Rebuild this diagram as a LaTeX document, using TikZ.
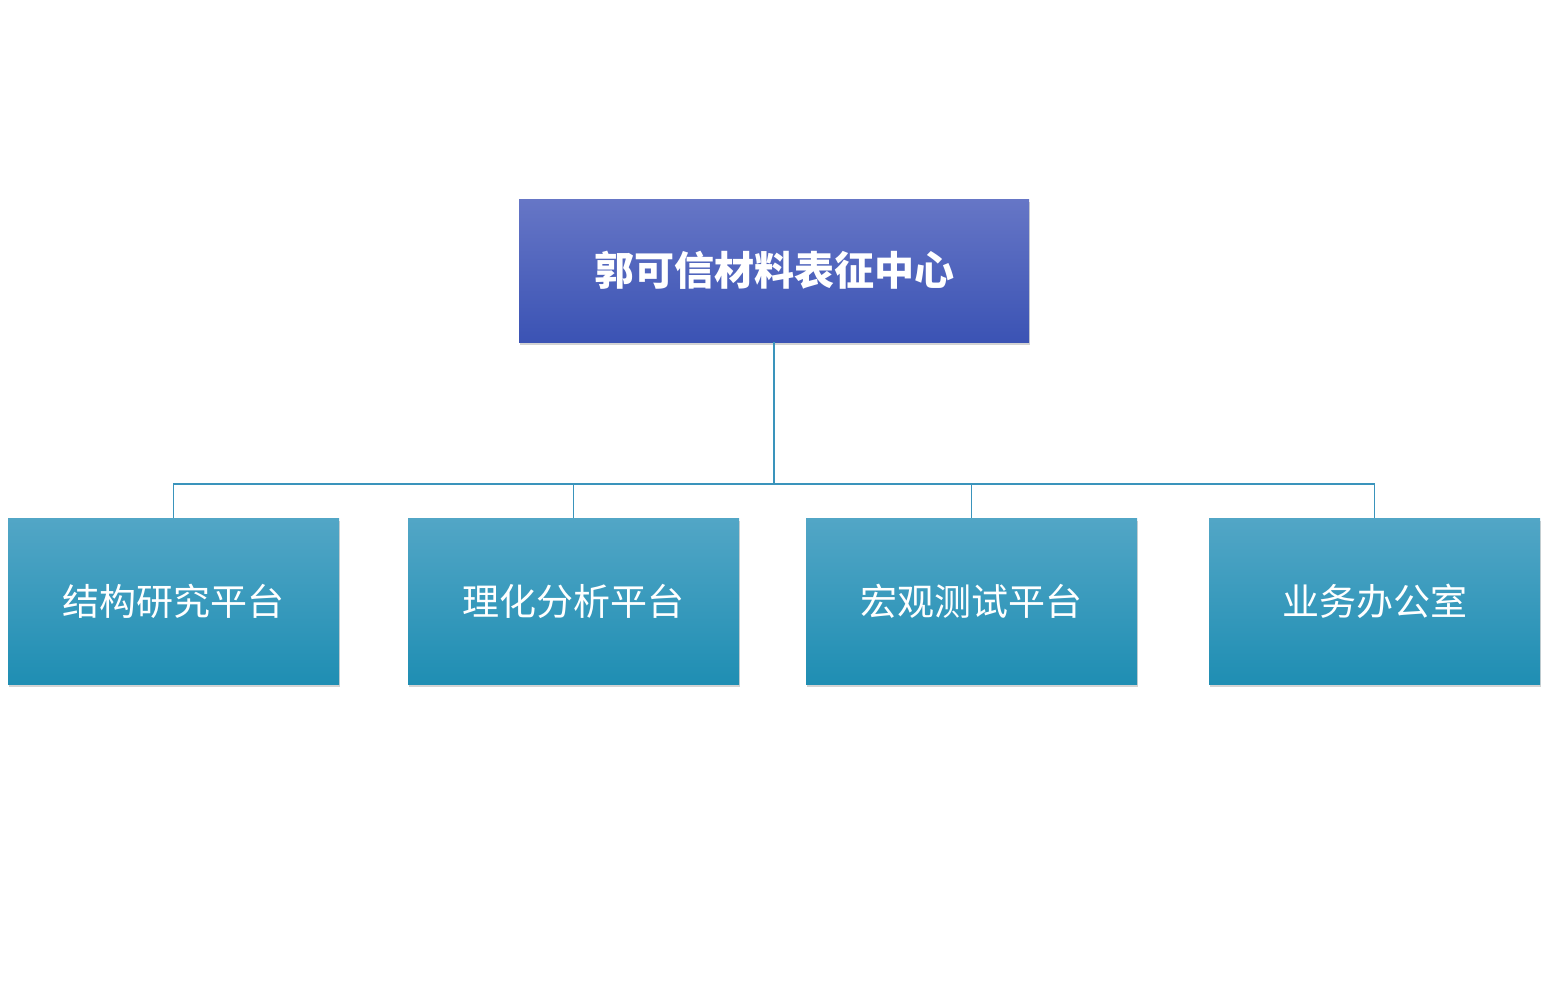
\documentclass[tikz,border=0pt]{standalone}
\usepackage{fontspec}
\newfontfamily\cjk{Noto Sans CJK SC}
\usetikzlibrary{shadows}
\definecolor{topA}{HTML}{6676C6}
\definecolor{topB}{HTML}{3B53B4}
\definecolor{subA}{HTML}{52A6C6}
\definecolor{subB}{HTML}{1F8EB3}
\definecolor{linec}{HTML}{3A94BC}
\tikzset{
  headbox/.style={minimum width=510pt,minimum height=143pt,top color=topA,bottom color=topB,draw=none,
    drop shadow={shadow xshift=1pt,shadow yshift=-3pt,opacity=0.35},text=white,font=\cjk\bfseries\fontsize{40}{44}\selectfont},
  subbox/.style={minimum width=331pt,minimum height=166pt,top color=subA,bottom color=subB,draw=none,
    drop shadow={shadow xshift=1pt,shadow yshift=-3pt,opacity=0.35},text=white,font=\cjk\fontsize{37}{42}\selectfont},
  conn/.style={draw=linec,line width=1.5pt}
}
\begin{document}
\begin{tikzpicture}[x=1pt,y=-1pt]
\useasboundingbox (0,0) rectangle (1549,990);
\node[headbox] (h) at (774,270.5) {郭可信材料表征中心};
\node[subbox] (a) at (173.5,601) {结构研究平台};
\node[subbox] (b) at (573.5,601) {理化分析平台};
\node[subbox] (c) at (971.5,601) {宏观测试平台};
\node[subbox] (d) at (1374.5,601) {业务办公室};
\coordinate (j) at (774,484);
\draw[conn] (h.south) -- (j);
\foreach \n in {a,b,c,d}{\draw[conn] (j) -| (\n.north);}
\end{tikzpicture}
\end{document}
